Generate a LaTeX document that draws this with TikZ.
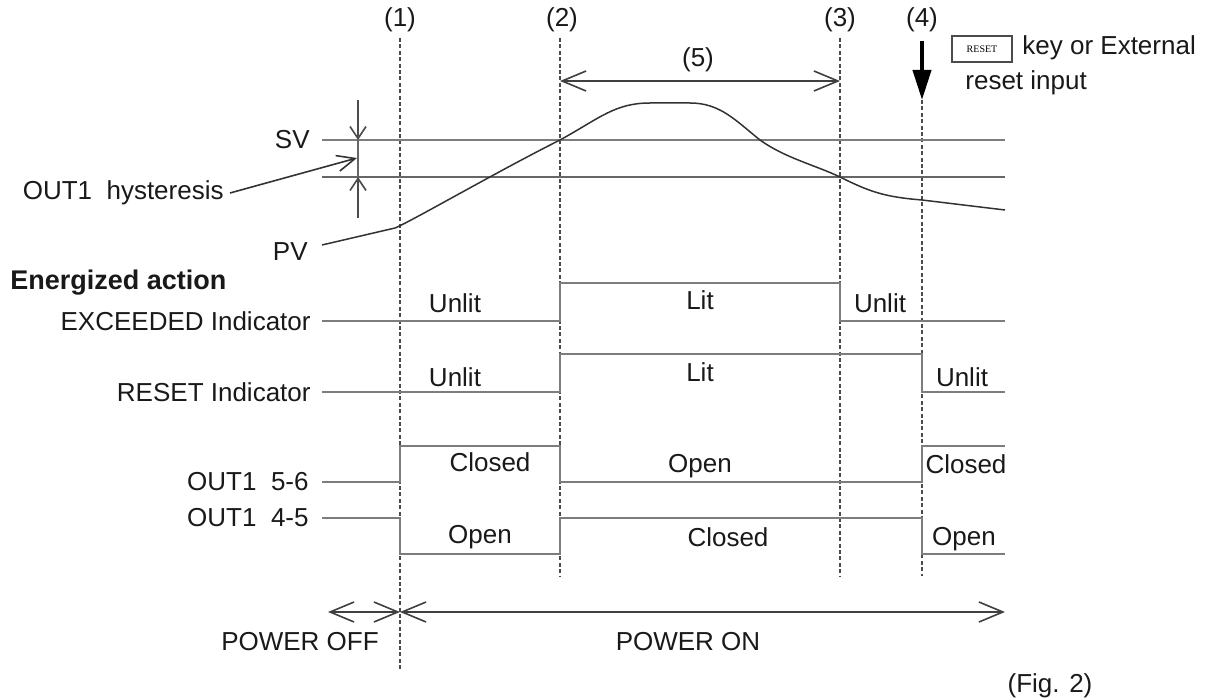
\documentclass[tikz,border=0pt]{standalone}
\usepackage{fontspec}
\setmainfont{Liberation Sans}
\newfontfamily\keyfont{Liberation Serif}
\usetikzlibrary{arrows.meta}
\definecolor{sigc}{RGB}{125,125,125}
\definecolor{pvc}{RGB}{50,50,50}
\begin{document}
\begin{tikzpicture}[x=0.5pt,y=-0.5pt,
  lbl/.style={font=\fontsize{13}{15}\selectfont, inner sep=0pt, text=black!90},
  sig/.style={draw=sigc, line width=1pt},
  pvline/.style={draw=pvc, line width=0.75pt},
  vdash/.style={draw=black!70, line width=0.6pt, dash pattern=on 2pt off 1.2pt},
  dbl/.style={draw=black!75, line width=0.8pt, {Straight Barb[length=12pt,width=10pt]}-{Straight Barb[length=12pt,width=10pt]}},
  hyarr/.style={draw=black!70, line width=0.8pt, -{Straight Barb[length=6pt,width=8pt]}},
  ptr/.style={draw=black!80, line width=0.8pt, -{Straight Barb[length=9pt,width=8pt]}}
]
\useasboundingbox (0,0) rectangle (1216,700);

% event markers
\node[lbl] (n1) at (400,20) {(1)};
\node[lbl] (n2) at (562,20) {(2)};
\node[lbl] (n3) at (840,20) {(3)};
\node[lbl] (n4) at (922,20) {(4)};
\coordinate (t1) at (400,38); \coordinate (b1) at (400,670);
\coordinate (t2) at (560,38); \coordinate (b2) at (560,576);
\coordinate (t3) at (840,38); \coordinate (b3) at (840,576);
\coordinate (a4) at (922,41); \coordinate (t4) at (922,100); \coordinate (b4) at (922,576);
\draw[vdash] (t1) -- (b1);
\draw[vdash] (t2) -- (b2);
\draw[vdash] (t3) -- (b3);
\draw[vdash] (t4) -- (b4);
\draw[line width=2pt, -{Triangle[length=15pt,width=9pt]}] (a4) -- (t4);

% reset key label
\node[draw=black!70, line width=0.6pt, minimum width=30pt, minimum height=13pt, inner sep=0pt,
      font=\keyfont\fontsize{5}{6}\selectfont] (key) at (982,49) {RESET};
\node[lbl, anchor=west] (keytxt) at (1022,48) {key or External};
\node[lbl, anchor=west] (rstin) at (965,83) {reset input};

% (5) interval
\coordinate (f5a) at (560,81); \coordinate (f5b) at (840,81);
\draw[dbl] (f5a) -- (f5b);
\node[lbl] (n5) at (698,60) {(5)};

% SV and hysteresis
\node[lbl, anchor=east] (sv) at (310,140) {SV};
\coordinate (sv0) at (322,140); \coordinate (sv1) at (1005,140);
\coordinate (hy0) at (322,177); \coordinate (hy1) at (1005,177);
\draw[sig] (sv0) -- (sv1);
\draw[sig, draw=black!60] (hy0) -- (hy1);
\coordinate (ha) at (358,100); \coordinate (hb) at (358,140);
\coordinate (hc) at (358,218); \coordinate (hd) at (358,177);
\draw[hyarr] (ha) -- (hb);
\draw[hyarr] (hc) -- (hd);
\draw[draw=black!60, line width=0.8pt] (hb) -- (hd);
\node[lbl, anchor=east] (hys) at (224,193) {OUT1\ \ hysteresis};
\coordinate (hm) at (357,158);
\path (hys.east) ++(6,0) coordinate (hs);
\draw[ptr] (hs) -- (hm);

% PV
\node[lbl, anchor=east] (pv) at (308,252) {PV};
\coordinate (pv0) at (322,245);
\draw[pvline] (pv0) -- (395,228) .. controls (410,222) and (500,170) .. (560,140)
  .. controls (600,118) and (615,103) .. (650,103) -- (690,103)
  .. controls (720,103) and (735,120) .. (760,140)
  .. controls (785,158) and (815,165) .. (840,177)
  .. controls (870,192) and (885,197) .. (922,200) -- (1005,210);

% energized action
\node[lbl, anchor=west, font=\fontsize{13.5}{15}\selectfont\bfseries] (ea) at (10,283) {Energized action};

% EXCEEDED indicator
\node[lbl, anchor=east] (exl) at (311,321) {EXCEEDED Indicator};
\draw[sig] (322,321) -- (560,321) -- (560,283) -- (840,283) -- (840,321) -- (1005,321);
\node[lbl] (ex1) at (455,303) {Unlit};
\node[lbl] (ex2) at (700,300) {Lit};
\node[lbl] (ex3) at (880,303) {Unlit};

% RESET indicator
\node[lbl, anchor=east] (rsl) at (311,392) {RESET Indicator};
\draw[sig] (322,392) -- (560,392) -- (560,354) -- (922,354) -- (922,392) -- (1005,392);
\node[lbl] (rs1) at (455,377) {Unlit};
\node[lbl] (rs2) at (700,372) {Lit};
\node[lbl] (rs3) at (962,377) {Unlit};

% OUT1 5-6
\node[lbl, anchor=east] (o56) at (309,482) {OUT1\ \ 5-6};
\draw[sig] (322,482) -- (400,482) -- (400,446) -- (560,446) -- (560,482) -- (922,482) -- (922,446) -- (1005,446);
\node[lbl] (c1) at (490,462) {Closed};
\node[lbl] (c2) at (700,466) {Open};
\node[lbl] (c3) at (966,464) {Closed};

% OUT1 4-5
\node[lbl, anchor=east] (o45) at (309,518) {OUT1\ \ 4-5};
\draw[sig] (322,518) -- (400,518) -- (400,554) -- (560,554) -- (560,518) -- (922,518) -- (922,554) -- (1005,554);
\node[lbl] (d1) at (480,537) {Open};
\node[lbl] (d2) at (728,537) {Closed};
\node[lbl] (d3) at (964,539) {Open};

% power
\coordinate (poff) at (328,612); \coordinate (pmid) at (400,612); \coordinate (pon) at (1005,612);
\draw[dbl] (poff) -- (pmid);
\draw[dbl] (pmid) -- (pon);
\node[lbl] (poffl) at (300,642) {POWER OFF};
\node[lbl] (ponl) at (688,642) {POWER ON};
\node[lbl] (fig) at (1050,686) {(Fig. 2)};
\end{tikzpicture}
\end{document}
